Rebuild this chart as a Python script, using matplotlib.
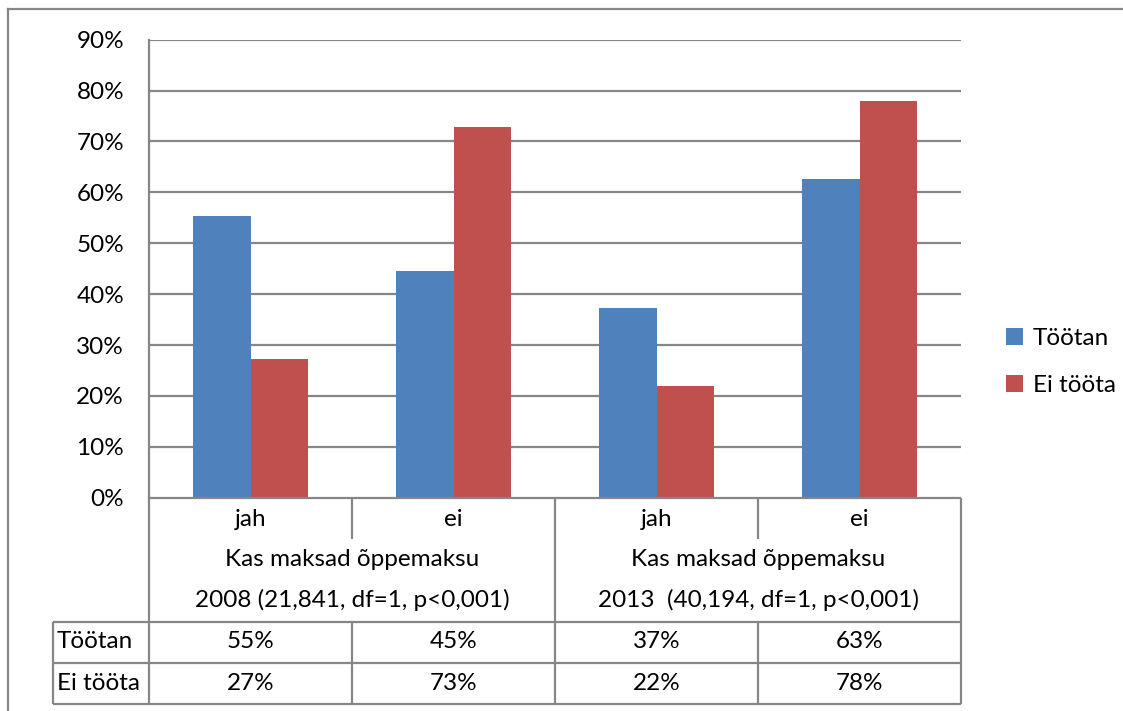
import matplotlib
matplotlib.use("Agg")
import matplotlib.pyplot as plt
import matplotlib.transforms as mtransforms
from matplotlib.lines import Line2D

plt.rcParams['font.family'] = ['Lato', 'DejaVu Sans']

# ---- data ----
categories = ["jah", "ei", "jah", "ei"]
group_title = "Kas maksad õppemaksu"
group_labels = ["2008 (21,841, df=1, p<0,001)", "2013  (40,194, df=1, p<0,001)"]
series_names = ["Töötan", "Ei tööta"]
tootan = [0.554, 0.446, 0.373, 0.627]
ei_toota = [0.272, 0.728, 0.220, 0.780]
tootan_labels = ["55%", "45%", "37%", "63%"]
ei_toota_labels = ["27%", "73%", "22%", "78%"]
yticks = [0, 0.1, 0.2, 0.3, 0.4, 0.5, 0.6, 0.7, 0.8, 0.9]
ytick_labels = ["0%", "10%", "20%", "30%", "40%", "50%", "60%", "70%", "80%", "90%"]

BLUE = "#4F81BD"
RED = "#C0504D"
GRID = "#868686"
FS = 17.5

W, H = 1123, 711
fig = plt.figure(figsize=(W / 100, H / 100), dpi=100)

# plot area in pixels
x0, x1 = 149, 961
y0, y1 = 497.7, 39.7
ax = fig.add_axes([x0 / W, (H - y0) / H, (x1 - x0) / W, (y0 - y1) / H])

n = len(categories)
xs = list(range(n))
bw = 0.2857
ax.bar([x - bw / 2 for x in xs], tootan, width=bw, color=BLUE, label=series_names[0], zorder=3)
ax.bar([x + bw / 2 for x in xs], ei_toota, width=bw, color=RED, label=series_names[1], zorder=3)

ax.set_xlim(-0.5, n - 0.5)
ax.set_ylim(0, 0.9)
ax.set_yticks(yticks)
ax.set_yticklabels(ytick_labels, fontsize=FS)
ax.tick_params(axis='y', length=0, pad=18)
ax.set_xticks([])
for y in yticks[1:]:
    ax.axhline(y, color=GRID, lw=1.6, zorder=1)
for s in ["top", "right", "bottom"]:
    ax.spines[s].set_visible(False)
ax.spines["left"].set_color(GRID)
ax.spines["left"].set_linewidth(1.6)

def ypix(py):
    # axes fraction for a given pixel y measured from the top of the figure
    return (y0 - py) / (y0 - y1)

trans = mtransforms.blended_transform_factory(ax.transData, ax.transAxes)

def line(xa, xb, ya, yb):
    ax.plot([xa, xb], [ypix(ya), ypix(yb)], transform=trans, color=GRID, lw=1.6,
            clip_on=False, zorder=4, solid_capstyle='butt')

left_x = -0.5
hdr_x = left_x - (149 - 53) / 203.0
y_cat = 497.7
y_tab1, y_tab2, y_tab3 = 621.5, 662.5, 703.5

# category axis line and table lines
line(left_x, n - 0.5, y_cat, y_cat)
for yy in (y_tab1, y_tab2, y_tab3):
    line(hdr_x, n - 0.5, yy, yy)
line(left_x, left_x, y_cat, y_tab3)
line(n - 0.5, n - 0.5, y_cat, y_tab3)
line(1.5, 1.5, y_cat, y_tab3)
for b in (0.5, 2.5):
    line(b, b, y_cat, 539)
    line(b, b, y_tab1, y_tab3)
line(hdr_x, hdr_x, y_tab1, y_tab3)

# category labels and data table
for i, c in enumerate(categories):
    ax.text(i, ypix(519), c, transform=trans, ha='center', va='center', fontsize=FS)
    ax.text(i, ypix(642), tootan_labels[i], transform=trans, ha='center', va='center', fontsize=FS)
    ax.text(i, ypix(683), ei_toota_labels[i], transform=trans, ha='center', va='center', fontsize=FS)
for g, gl in enumerate(group_labels):
    cx = 2 * g + 0.5
    ax.text(cx, ypix(559), group_title, transform=trans, ha='center', va='center', fontsize=FS)
    ax.text(cx, ypix(600), gl, transform=trans, ha='center', va='center', fontsize=FS)

ax.text(hdr_x + 0.02, ypix(642), series_names[0], transform=trans, ha='left', va='center', fontsize=FS)
ax.text(hdr_x + 0.02, ypix(683), series_names[1], transform=trans, ha='left', va='center', fontsize=FS)

# legend
leg = fig.legend(loc='center left', bbox_to_anchor=(984 / W, (H - 362) / H),
                 frameon=False, fontsize=FS, handlelength=0.7, handleheight=0.7,
                 handletextpad=0.4, labelspacing=1.1)

# outer chart border
fig.add_artist(Line2D([8 / W, 8 / W], [0, (H - 9) / H], color=GRID, lw=1.6))
fig.add_artist(Line2D([8 / W, 1], [(H - 9) / H, (H - 9) / H], color=GRID, lw=1.6))

fig.savefig("out.png", dpi=100)
